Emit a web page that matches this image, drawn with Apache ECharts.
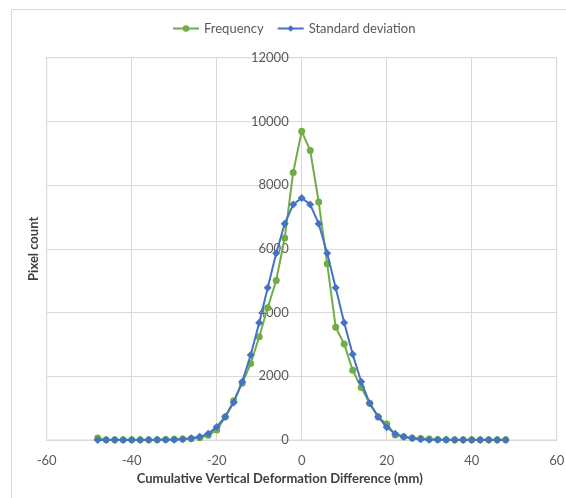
<!DOCTYPE html>
<html>
<head>
<meta charset="utf-8">
<script src="https://cdn.jsdelivr.net/npm/echarts@6/dist/echarts.min.js"></script>
<style>
html,body{margin:0;padding:0;background:#fff;}
#chart{width:566px;height:498px;}
</style>
</head>
<body>
<div id="chart"></div>
<script>
var xValues = [-48,-46,-44,-42,-40,-38,-36,-34,-32,-30,-28,-26,-24,-22,-20,-18,-16,-14,-12,-10,-8,-6,-4,-2,0,2,4,6,8,10,12,14,16,18,20,22,24,26,28,30,32,34,36,38,40,42,44,46,48];
var frequency = [60,10,5,5,5,5,5,10,15,20,30,40,70,150,310,720,1230,1780,2400,3240,4150,5010,6340,8400,9690,9090,7470,5530,3540,3010,2190,1650,1150,720,500,160,100,60,50,30,15,10,5,5,5,5,5,5,5];
var stdDev = [2,2,2,2,2,2,3,4,6,10,25,55,100,200,410,730,1180,1830,2670,3680,4780,5860,6790,7390,7600,7390,6790,5860,4780,3680,2690,1830,1150,730,400,200,100,55,25,10,6,4,3,2,2,2,2,2,2];
var seriesNames = ['Frequency','Standard deviation'];
var xTitle = 'Cumulative Vertical Deformation Difference (mm)';
var yTitle = 'Pixel count';

function pairs(xs, ys){ return xs.map(function(x,i){ return [x, ys[i]]; }); }

var font = 'Lato, "Open Sans", sans-serif';
var W = 566, gridLeft = 46.7, gridRight = 9.3;
var plotW = W - gridLeft - gridRight;
var chart = echarts.init(document.getElementById('chart'), null, {renderer:'canvas'});
chart.setOption({
  animation:false,
  backgroundColor:'#fff',
  textStyle:{fontFamily:font},
  graphic:[{type:'rect', z:-10, silent:true, shape:{x:11.5,y:9.5,width:700,height:700}, style:{fill:'none', stroke:'#d9d9d9', lineWidth:1}}],
  legend:{
    left:172, top:22, padding:0, itemWidth:26, itemHeight:8, itemGap:13,
    textStyle:{fontFamily:font, fontSize:13, color:'#595959'},
    data:seriesNames
  },
  grid:{left:gridLeft, right:gridRight, top:57.7, bottom:58, show:true, borderColor:'#d9d9d9', borderWidth:1, containLabel:false, outerBoundsMode:'none'},
  xAxis:{
    type:'value', min:-60, max:60, interval:20,
    name:xTitle, nameLocation:'middle', nameGap:31,
    nameTextStyle:{fontFamily:font, fontSize:13, fontWeight:'bold', color:'#404040', padding:[0,44,0,0]},
    axisLine:{show:true, onZero:false, lineStyle:{color:'#d9d9d9'}},
    axisTick:{show:false},
    axisLabel:{fontFamily:font, fontSize:13, color:'#595959', margin:14},
    splitLine:{show:true, lineStyle:{color:'#d9d9d9'}}
  },
  yAxis:[{
    type:'value', min:0, max:12000, interval:2000, position:'left', offset:-(plotW/2),
    axisLine:{show:true, onZero:false, lineStyle:{color:'#d9d9d9'}},
    axisTick:{show:false},
    axisLabel:{fontFamily:font, fontSize:13, color:'#595959', margin:13, formatter:function(v){ return String(v); }},
    splitLine:{show:true, lineStyle:{color:'#d9d9d9'}}
  },{
    type:'value', min:0, max:12000, interval:2000, position:'left',
    name:yTitle, nameLocation:'middle', nameGap:6,
    nameTextStyle:{fontFamily:font, fontSize:13, fontWeight:'bold', color:'#404040'},
    axisLine:{show:false}, axisTick:{show:false}, axisLabel:{show:false}, splitLine:{show:false}
  }],
  series:[{
    name:seriesNames[0], type:'line', data:pairs(xValues, frequency),
    symbol:'circle', symbolSize:7, z:2,
    lineStyle:{color:'#70AD47', width:2}, itemStyle:{color:'#70AD47'}
  },{
    name:seriesNames[1], type:'line', data:pairs(xValues, stdDev),
    symbol:'diamond', symbolSize:8, z:3,
    lineStyle:{color:'#4472C4', width:2}, itemStyle:{color:'#4472C4'}
  }]
});
</script>
</body>
</html>
